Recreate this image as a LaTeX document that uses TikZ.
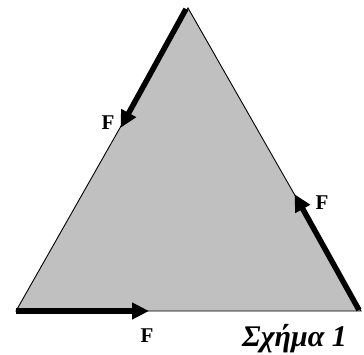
\documentclass[tikz,border=0pt]{standalone}
\usepackage{fontspec}
\setmainfont{Liberation Serif}
\usetikzlibrary{arrows.meta}
\begin{document}
\begin{tikzpicture}[x=1pt,y=-1pt,
  force/.style={line width=5.5pt,-{Triangle[length=17pt,width=16pt]},shorten >=-1pt},
  lbl/.style={font=\fontsize{21}{21}\selectfont\bfseries,inner sep=0pt}]
\useasboundingbox (0,0) rectangle (364,355);
\coordinate (T) at (188,8);
\coordinate (L) at (16,311);
\coordinate (R) at (361,311);
\filldraw[fill={rgb,255:red,192;green,192;blue,192},draw=black,line width=0.9pt] (T) -- (L) -- (R) -- cycle;
\coordinate (A1) at (186,9);
\coordinate (B1) at (121,127);
\coordinate (A2) at (16,311);
\coordinate (B2) at (148,311);
\coordinate (A3) at (359,310);
\coordinate (B3) at (295,195);
\draw[force] (A1) -- (B1);
\draw[force] (A2) -- (B2);
\draw[force] (A3) -- (B3);
\node[lbl] (f1) at (108,122.5) {F};
\node[lbl] (f2) at (147,335.5) {F};
\node[lbl] (f3) at (322,202.5) {F};
\node[font=\fontsize{30}{30}\selectfont\bfseries\itshape,inner sep=0pt,anchor=base west] (cap) at (242,346) {Σχήμα 1};
\end{tikzpicture}
\end{document}
